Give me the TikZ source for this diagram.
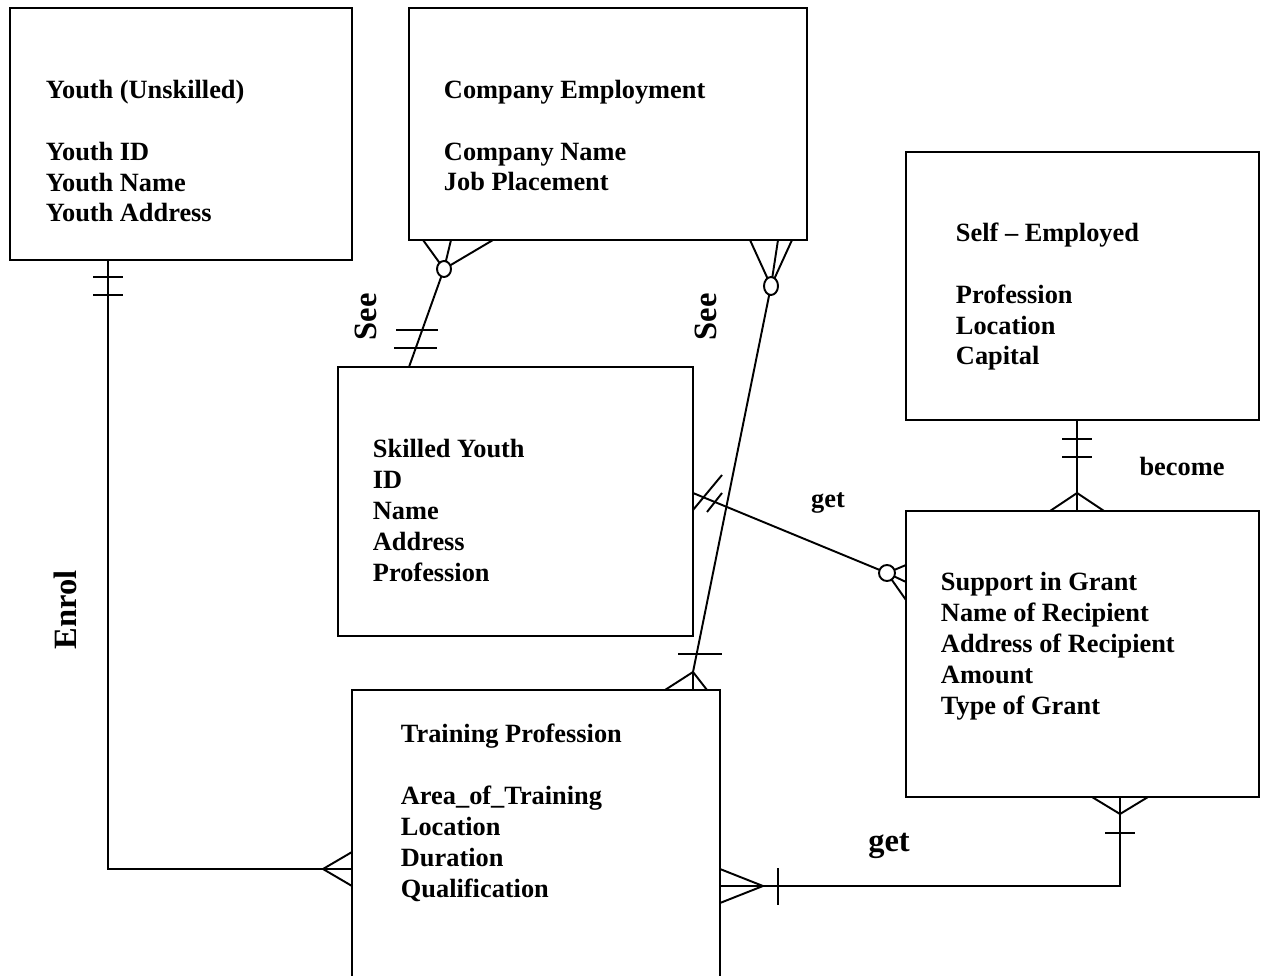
\documentclass[tikz,border=0pt]{standalone}
\usepackage{fontspec}
\setmainfont{Liberation Serif}
\usetikzlibrary{fit,calc}
\begin{document}
\begin{tikzpicture}[x=0.02cm,y=-0.02cm,line width=1.1pt,
    box/.style={draw,inner sep=0pt,outer sep=0pt},
    txt/.style={anchor=base west,align=left,inner sep=0pt,font=\fontsize{15}{17.6}\selectfont\bfseries},
    lbl/.style={inner sep=0pt,font=\fontsize{15}{17.6}\selectfont\bfseries},
    big/.style={inner sep=0pt,font=\fontsize{18.5}{22}\selectfont\bfseries}]
  \useasboundingbox (0,0) rectangle (1261,976);
  \clip (0,0) rectangle (1261,976);
  % entities
  \node[box,fit={(10,8) (352,260)}] (youth) {};
  \node[box,fit={(409,8) (807,240)}] (comp) {};
  \node[box,fit={(906,152) (1259,420)}] (self) {};
  \node[box,fit={(338,367) (693,636)}] (skill) {};
  \node[box,fit={(906,511) (1259,797)}] (grant) {};
  \node[box,fit={(352,690) (720,1000)}] (train) {};
  % attributes (anchored at the last line)
  \node[txt] (youthT) at (45,222) {Youth (Unskilled)\\[17.6pt]Youth ID\\Youth Name\\Youth Address};
  \node[txt] (compT) at (443,191) {Company Employment\\[17.6pt]Company Name\\Job Placement};
  \node[txt] (selfT) at (955,365) {Self -- Employed\\[17.6pt]Profession\\Location\\Capital};
  \node[txt] (skillT) at (372,581) {Skilled Youth\\ID\\Name\\Address\\Profession};
  \node[txt] (grantT) at (940,714) {Support in Grant\\Name of Recipient\\Address of Recipient\\Amount\\Type of Grant};
  \node[txt] (trainT) at (400,897) {Training Profession\\[17.6pt]Area\_of\_Training\\Location\\Duration\\Qualification};
  % Enrol
  \coordinate (yA) at ($(youth.south west)+(98,0)$);
  \coordinate (tA) at ($(train.north west)+(0,179)$);
  \coordinate (tAf) at ($(tA)+(-29,0)$);
  \draw (yA) |- (tA);
  \draw ($(tA)+(0,-17)$) -- (tAf) -- ($(tA)+(0,17)$);
  \draw (93,277) -- (123,277) (93,295) -- (123,295);
  % See (skilled youth)
  \coordinate (cB1) at ($(comp.south west)+(14,0)$);
  \coordinate (cB2) at ($(comp.south west)+(42,0)$);
  \coordinate (cB3) at ($(comp.south west)+(84,0)$);
  \coordinate (o1) at (444,269);
  \coordinate (sT) at ($(skill.north west)+(71,0)$);
  \draw (sT) -- (o1);
  \draw (cB1) -- (o1) (cB2) -- (o1) (cB3) -- (o1);
  \draw[fill=white] (o1) ellipse [x radius=7,y radius=8];
  \draw (396,330) -- (438,330) (394,348) -- (437,348);
  % See (training)
  \coordinate (cB4) at ($(comp.south west)+(341,0)$);
  \coordinate (cB5) at ($(comp.south west)+(369,0)$);
  \coordinate (cB6) at ($(comp.south west)+(383,0)$);
  \coordinate (o2) at (771,286);
  \coordinate (f2) at (693,672);
  \coordinate (tT) at ($(train.north west)+(341,0)$);
  \coordinate (tL) at ($(train.north west)+(313,0)$);
  \coordinate (tR) at ($(train.north west)+(355,0)$);
  \draw (o2) -- (f2) -- (tT) (tL) -- (f2) -- (tR);
  \draw (cB4) -- (o2) (cB5) -- (o2) (cB6) -- (o2);
  \draw[fill=white] (o2) ellipse [x radius=7,y radius=9];
  \draw (678,654) -- (722,654);
  % get (skilled youth -- grant)
  \coordinate (sR) at ($(skill.north east)+(0,126)$);
  \coordinate (o3) at (887,573);
  \coordinate (gL1) at ($(grant.north west)+(0,54)$);
  \coordinate (gL2) at ($(grant.north west)+(0,71)$);
  \coordinate (gL3) at ($(grant.north west)+(0,89)$);
  \draw (sR) -- (o3);
  \draw (gL1) -- (o3) (gL2) -- (o3) (gL3) -- (o3);
  \draw[fill=white] (o3) ellipse [x radius=8,y radius=8];
  \draw (693,510) -- (722,475) (707,512) -- (722,493);
  % become
  \coordinate (sfB) at ($(self.south west)+(171,0)$);
  \coordinate (gT) at ($(grant.north west)+(171,0)$);
  \coordinate (f4) at (1077,493);
  \draw (sfB) -- (gT);
  \draw ($(grant.north west)+(144,0)$) -- (f4) -- ($(grant.north west)+(198,0)$);
  \draw (1062,439) -- (1092,439) (1062,457) -- (1092,457);
  % get (grant -- training)
  \coordinate (gB) at ($(grant.south west)+(214,0)$);
  \coordinate (f5) at (1120,814);
  \coordinate (tR2) at ($(train.north east)+(0,196)$);
  \coordinate (f6) at (763,886);
  \draw (gB) |- (tR2);
  \draw ($(grant.south west)+(186,0)$) -- (f5) -- ($(grant.south west)+(242,0)$);
  \draw ($(train.north east)+(0,179)$) -- (f6) -- ($(train.north east)+(0,213)$);
  \draw (1105,833) -- (1135,833) (778,868) -- (778,905);
  % labels
  \node[big,rotate=90] (see1) at (366,317) {See};
  \node[big,rotate=90] (see2) at (706,317) {See};
  \node[big,rotate=90] (enrol) at (65,610) {Enrol};
  \node[lbl] (get1) at (828,503) {get};
  \node[lbl] (become) at (1182,466) {become};
  \node[big] (get2) at (889,846) {get};
\end{tikzpicture}
\end{document}
